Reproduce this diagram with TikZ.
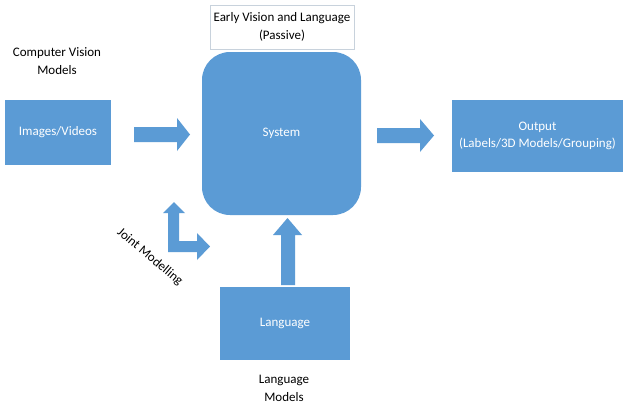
\documentclass[tikz,border=0pt]{standalone}
\usepackage{fontspec}
\setmainfont{Carlito}
\definecolor{officeblue}{RGB}{91,155,213}
\definecolor{lightframe}{RGB}{200,210,220}
\begin{document}
\begin{tikzpicture}[x=1pt,y=-1pt,
  box/.style={fill=officeblue,draw=none,text=white,font=\fontsize{13}{17}\selectfont,align=center,inner sep=0pt},
  lbl/.style={font=\fontsize{13}{18}\selectfont,align=center,text=black,inner sep=0pt},
  blockarrow/.style={fill=officeblue,draw=none}]
\fill[white] (0,0) rectangle (626,407);
\useasboundingbox (0,0) rectangle (626,407);
% boxes
\node[box,minimum width=106pt,minimum height=65pt] (img) at (58,132.5) {Images/Videos};
\node[box,rounded corners=28pt,minimum width=159pt,minimum height=163pt] (sys) at (281.5,133.5) {System};
\node[box,minimum width=171pt,minimum height=72pt] (out) at (537.5,136) {Output\\(Labels/3D Models/Grouping)};
\node[box,minimum width=130pt,minimum height=73pt] (lang) at (285,323.5) {Language};
\node[lbl,draw=lightframe,line width=0.6pt,minimum width=144pt,minimum height=44pt] (ev) at (282,27) {Early Vision and Language\\(Passive)};
% labels
\node[lbl] (cvm) at (57,61) {Computer Vision\\Models};
\node[lbl] (lm) at (284,388) {Language\\Models};
\node[lbl,rotate=-40] (jm) at (150,257) {Joint Modelling};
% block arrows
\fill[blockarrow] (134,127) -- (177,127) -- (177,118) -- (190,134.5) -- (177,151) -- (177,142) -- (134,142) -- cycle;
\fill[blockarrow] (377,128) -- (420,128) -- (420,119) -- (434,135.5) -- (420,152) -- (420,143) -- (377,143) -- cycle;
\fill[blockarrow] (281,285) -- (281,235) -- (273,235) -- (287.5,218) -- (302,235) -- (295,235) -- (295,285) -- cycle;
% L-shaped joint modelling arrow
\fill[blockarrow] (168,252) -- (168,213) -- (163,213) -- (174,202) -- (185,213) -- (179,213) -- (179,241) -- (197,241) -- (197,233) -- (210,246.5) -- (197,260) -- (197,252) -- cycle;
\end{tikzpicture}
\end{document}
